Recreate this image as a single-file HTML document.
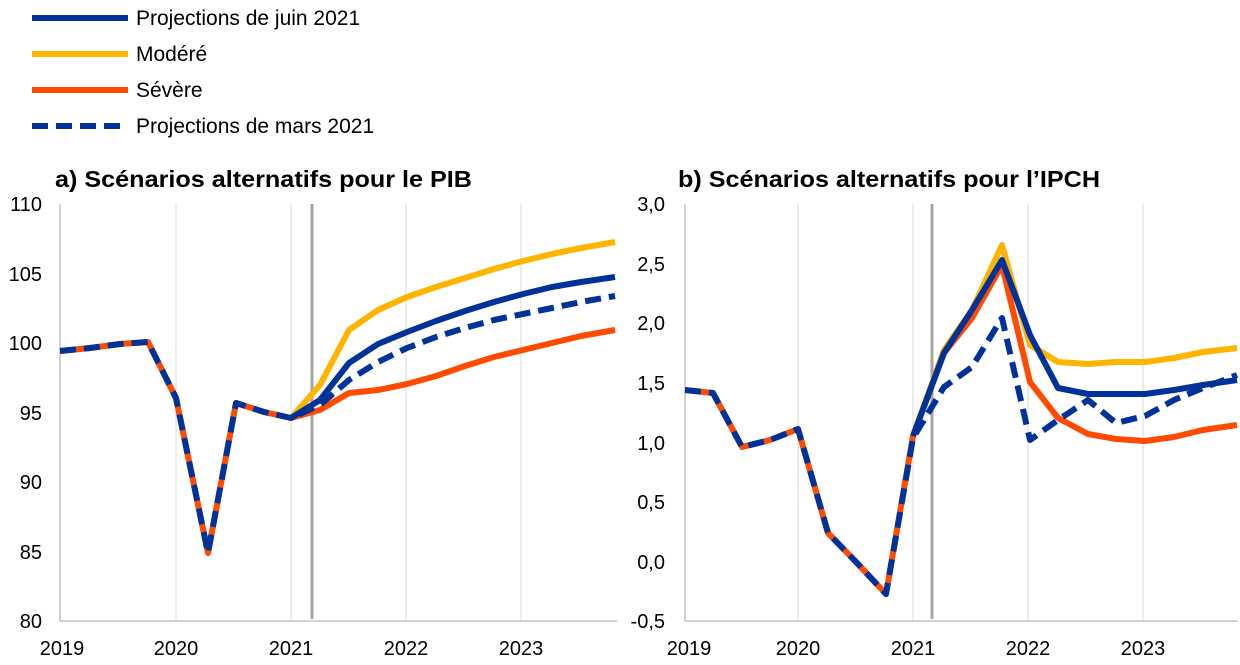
<!DOCTYPE html>
<html><head><meta charset="utf-8"><style>
body{margin:0;background:#fff;}
svg{display:block;font-family:"Liberation Sans",Arial,sans-serif;}
</style></head><body>
<svg width="1240" height="665" viewBox="0 0 1240 665">
<g stroke-width="6" fill="none">
<line x1="32" y1="18" x2="128" y2="18" stroke="#003299"/>
<line x1="32" y1="54" x2="128" y2="54" stroke="#ffb400"/>
<line x1="32" y1="90" x2="128" y2="90" stroke="#ff4b00"/>
<line x1="32" y1="126" x2="128" y2="126" stroke="#003299" stroke-dasharray="16,8"/>
</g>
<g font-size="21" fill="#000">
<text x="136" y="25">Projections de juin 2021</text>
<text x="136" y="61">Modéré</text>
<text x="136" y="97">Sévère</text>
<text x="136" y="133">Projections de mars 2021</text>
</g>
<text x="55" y="187" font-size="23" font-weight="bold" textLength="417" lengthAdjust="spacingAndGlyphs">a) Scénarios alternatifs pour le PIB</text>
<text x="678" y="187" font-size="23" font-weight="bold" textLength="422" lengthAdjust="spacingAndGlyphs">b) Scénarios alternatifs pour l’IPCH</text>

<g stroke="#d9d9d9" stroke-width="1">
<line x1="176" y1="204" x2="176" y2="621"/><line x1="291" y1="204" x2="291" y2="621"/>
<line x1="406" y1="204" x2="406" y2="621"/><line x1="521" y1="204" x2="521" y2="621"/>
<line x1="798" y1="204" x2="798" y2="621"/><line x1="913" y1="204" x2="913" y2="621"/>
<line x1="1028" y1="204" x2="1028" y2="621"/><line x1="1143" y1="204" x2="1143" y2="621"/>
</g>
<g stroke="#a6a6a6" stroke-width="1">
<line x1="60" y1="204" x2="60" y2="621"/><line x1="60" y1="621" x2="617" y2="621"/>
<line x1="685" y1="204" x2="685" y2="621"/><line x1="685" y1="621" x2="1238" y2="621"/>
</g>
<line x1="312" y1="204" x2="312" y2="619" stroke="#a6a6a6" stroke-width="3"/>
<line x1="932" y1="204" x2="932" y2="619" stroke="#a6a6a6" stroke-width="3"/>

<g font-size="20" fill="#000" text-anchor="end">
<text x="42" y="211">110</text><text x="42" y="281">105</text><text x="42" y="350">100</text>
<text x="42" y="420">95</text><text x="42" y="489">90</text><text x="42" y="559">85</text><text x="42" y="628">80</text>
<text x="665" y="211">3,0</text><text x="665" y="271">2,5</text><text x="665" y="330">2,0</text>
<text x="665" y="390">1,5</text><text x="665" y="450">1,0</text><text x="665" y="509">0,5</text>
<text x="665" y="569">0,0</text><text x="665" y="628">-0,5</text>
</g>
<g font-size="20" fill="#000" text-anchor="middle">
<text x="62" y="655">2019</text><text x="176" y="655">2020</text><text x="291" y="655">2021</text>
<text x="406" y="655">2022</text><text x="521" y="655">2023</text>
<text x="689" y="655">2019</text><text x="798" y="655">2020</text><text x="913" y="655">2021</text>
<text x="1028" y="655">2022</text><text x="1143" y="655">2023</text>
</g>

<g fill="none" stroke-width="6" stroke-linejoin="round">
<polyline stroke="#ffb400" points="291,418 320,385 349,330 378,310 407,297 436,287 465,278 494,269 523,261 552,254 581,248 615,242"/>
<polyline stroke="#ff4b00" points="60,351 90,348 120,344 148,342 176,398 208,553 236,403 264,412 291,418 320,410 349,393 378,390 407,384 436,376 465,366 494,357 523,350 552,343 581,336 615,330"/>
<polyline stroke="#003299" points="291,418 320,400 349,363 378,344 407,332 436,321 465,311 494,302 523,294 552,287 581,282 615,277"/>
<polyline stroke="#003299" stroke-dasharray="16,8" points="60,351 90,348 120,344 148,342 176,398 208,553 236,403 264,412 291,418 320,405 349,380 378,362 407,348 436,337 465,328 494,320 523,314 552,308 581,302 615,296"/>
<polyline stroke="#ffb400" points="913,436 944,350 972,310 1002,245 1030,345 1058,362 1088,364 1116,362 1145,362 1174,358 1203,352 1237,348"/>
<polyline stroke="#ff4b00" points="685,390 713,393 742,447 770,440 798,429 828,533 857,563 886,594 913,436 944,353 972,318 1002,265 1030,382 1058,418 1088,434 1116,439 1145,441 1174,437 1203,430 1237,425"/>
<polyline stroke="#003299" points="913,436 944,353 972,310 1002,260 1030,335 1058,388 1088,394 1116,394 1145,394 1174,390 1203,385 1237,380"/>
<polyline stroke="#003299" stroke-dasharray="16,8" points="685,390 713,393 742,447 770,440 798,429 828,533 857,563 886,594 913,438 944,387 972,367 1002,318 1030,440 1058,420 1088,400 1116,423 1145,416 1174,400 1203,388 1237,375"/>
</g>
</svg>
</body></html>
